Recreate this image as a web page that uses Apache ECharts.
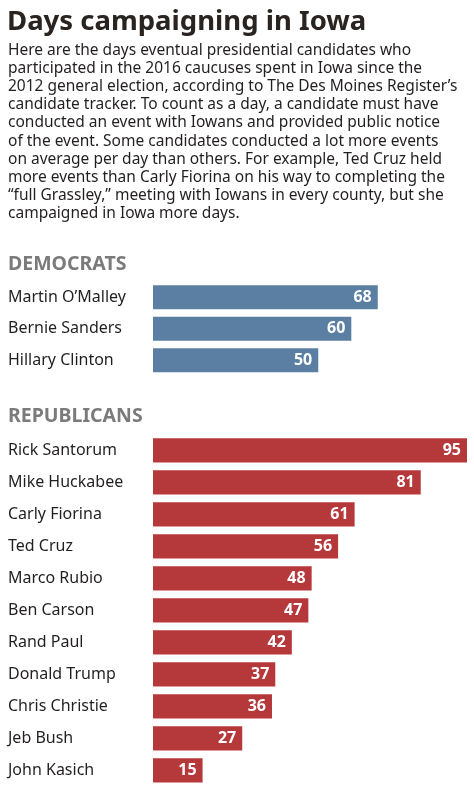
<!DOCTYPE html>
<html>
<head>
<meta charset="utf-8">
<script src="https://cdn.jsdelivr.net/npm/echarts@6/dist/echarts.min.js"></script>
<style>
html,body{margin:0;padding:0;background:#fff;}
#chart{width:474px;height:806px;}
</style>
</head>
<body>
<div id="chart"></div>
<script>
const titleText = "Days campaigning in Iowa";
const introLines = [
  "Here are the days eventual presidential candidates who",
  "participated in the 2016 caucuses spent in Iowa since the",
  "2012 general election, according to The Des Moines Register’s",
  "candidate tracker. To count as a day, a candidate must have",
  "conducted an event with Iowans and provided public notice",
  "of the event. Some candidates conducted a lot more events",
  "on average per day than others. For example, Ted Cruz held",
  "more events than Carly Fiorina on his way to completing the",
  "“full Grassley,” meeting with Iowans in every county, but she",
  "campaigned in Iowa more days."
];
const demHeader = "DEMOCRATS";
const repHeader = "REPUBLICANS";
const demNames = ["Martin O’Malley", "Bernie Sanders", "Hillary Clinton"];
const demDays = [68, 60, 50];
const repNames = ["Rick Santorum", "Mike Huckabee", "Carly Fiorina", "Ted Cruz", "Marco Rubio", "Ben Carson", "Rand Paul", "Donald Trump", "Chris Christie", "Jeb Bush", "John Kasich"];
const repDays = [95, 81, 61, 56, 48, 47, 42, 37, 36, 27, 15];

const FONT = "'Noto Sans', sans-serif";
const chart = echarts.init(document.getElementById('chart'), null, {renderer: 'canvas'});

const grids = [
  {left: 153, width: 314, top: 281.5, height: 94.5},
  {left: 153, width: 314, top: 434.3, height: 352}
];
function yAx(i, names) {
  return {
    type: 'category', gridIndex: i, data: names, inverse: true,
    axisLine: {show: false}, axisTick: {show: false}, splitLine: {show: false},
    axisLabel: {align: 'left', margin: 145, fontFamily: FONT, fontSize: 16, color: '#231f20'}
  };
}
function xAx(i) {
  return {type: 'value', gridIndex: i, min: 0, max: 95, show: false};
}
function ser(i, data, color) {
  return {
    type: 'bar', xAxisIndex: i, yAxisIndex: i, data: data, barCategoryGap: '24%',
    itemStyle: {color: color}, silent: true,
    label: {show: true, position: 'insideRight', distance: 6, color: '#fff',
      fontFamily: FONT, fontWeight: 'bold', fontSize: 16}
  };
}

chart.setOption({
  animation: false,
  title: [
    {text: titleText, left: 2, top: 3, textStyle: {fontFamily: FONT, fontWeight: 'bold', fontSize: 27.5, color: '#2a2420'}},
    {text: introLines.join('\n'), left: 3, top: 36, textStyle: {fontFamily: FONT, fontWeight: 'normal', fontSize: 15.5, lineHeight: 18.2, color: '#231f20'}},
    {text: demHeader, left: 3, top: 249, textStyle: {fontFamily: FONT, fontWeight: 'bold', fontSize: 19.5, color: '#7b7b7b'}},
    {text: repHeader, left: 3, top: 401, textStyle: {fontFamily: FONT, fontWeight: 'bold', fontSize: 19.5, color: '#7b7b7b'}}
  ],
  grid: grids,
  xAxis: [xAx(0), xAx(1)],
  yAxis: [yAx(0, demNames), yAx(1, repNames)],
  series: [ser(0, demDays, '#5b7fa3'), ser(1, repDays, '#b5383b')]
});
</script>
</body>
</html>
